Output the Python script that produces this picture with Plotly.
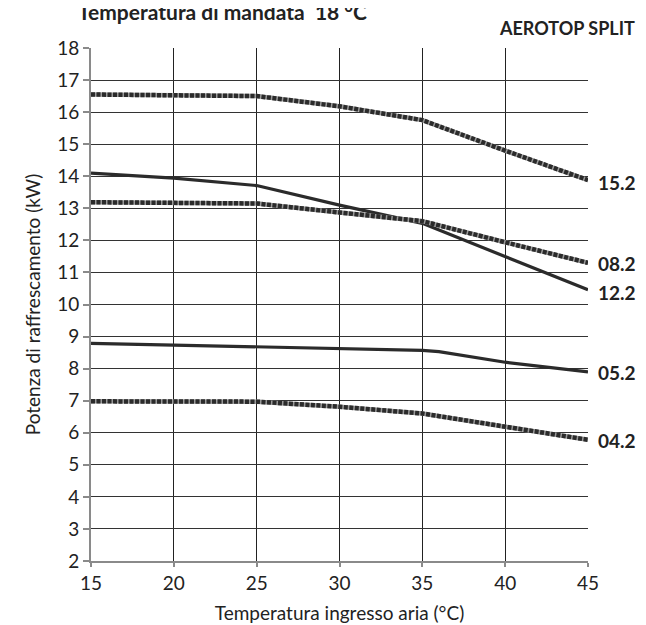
import plotly.graph_objects as go

# Data
x_temp = [15, 20, 25, 30, 35, 40, 45]
x_temp_052 = [15, 20, 25, 30, 35, 36, 40, 45]

cap_152 = [16.55, 16.53, 16.50, 16.18, 15.75, 14.80, 13.88]
cap_122 = [14.10, 13.94, 13.71, 13.10, 12.53, 11.49, 10.46]
cap_082 = [13.19, 13.17, 13.15, 12.87, 12.60, 11.94, 11.30]
cap_052 = [8.79, 8.73, 8.68, 8.62, 8.57, 8.53, 8.20, 7.90]
cap_042 = [6.98, 6.99, 6.97, 6.81, 6.60, 6.19, 5.78]

series_names = ["15.2", "08.2", "12.2", "05.2", "04.2"]
label_y = [13.82, 11.29, 10.37, 7.88, 5.75]

x_ticks = [15, 20, 25, 30, 35, 40, 45]
y_ticks = list(range(2, 19))

DARK = "#2b2b2b"
FONT = "Lato"

fig = go.Figure()

def dotted(xs, ys, name):
    fig.add_trace(go.Scatter(x=xs, y=ys, mode="lines", name=name,
                             line=dict(color="#9a9a9a", width=4.5),
                             hoverinfo="skip", showlegend=False))
    fig.add_trace(go.Scatter(x=xs, y=ys, mode="lines", name=name,
                             line=dict(color=DARK, width=4.5, dash="4px,1.5px"),
                             showlegend=False))

def solid(xs, ys, name):
    fig.add_trace(go.Scatter(x=xs, y=ys, mode="lines", name=name,
                             line=dict(color=DARK, width=3.2),
                             showlegend=False))

dotted(x_temp, cap_152, "15.2")
solid(x_temp, cap_122, "12.2")
dotted(x_temp, cap_082, "08.2")
solid(x_temp_052, cap_052, "05.2")
dotted(x_temp, cap_042, "04.2")

for name, yv in zip(series_names, label_y):
    fig.add_annotation(x=45, y=yv, xref="x", yref="y", text="<b>%s</b>" % name,
                       showarrow=False, xanchor="left", yanchor="middle", xshift=8,
                       font=dict(family=FONT, size=19, color="#222"))

fig.add_annotation(x=-0.03, y=1.072, xref="paper", yref="paper",
                   text="<b>Temperatura di mandata  18 °C</b>", showarrow=False,
                   xanchor="left", yanchor="middle",
                   font=dict(family=FONT, size=21, color="#222"))
fig.add_annotation(x=1.098, y=1.039, xref="paper", yref="paper",
                   text="<b>AEROTOP SPLIT</b>", showarrow=False,
                   xanchor="right", yanchor="middle",
                   font=dict(family=FONT, size=18, color="#222"))

fig.update_layout(
    width=646, height=625,
    margin=dict(l=83, r=66, t=40, b=66),
    paper_bgcolor="white", plot_bgcolor="white",
    font=dict(family=FONT, color="#222"),
    showlegend=False,
)
fig.update_xaxes(
    range=[15, 45], tickvals=x_ticks, ticktext=[str(v) for v in x_ticks],
    showgrid=True, gridcolor="#222", gridwidth=1.2,
    showline=True, linecolor="#8a8a8a", linewidth=2,
    ticks="outside", ticklen=4, tickcolor="#8a8a8a", tickwidth=1.5,
    tickfont=dict(family=FONT, size=19, color="#222"),
    title=dict(text="Temperatura ingresso aria (°C)", standoff=14,
               font=dict(family=FONT, size=19, color="#222")),
    zeroline=False, fixedrange=True,
)
fig.update_yaxes(
    range=[2, 18], tickvals=y_ticks, ticktext=[str(v) for v in y_ticks],
    showgrid=True, gridcolor="#333", gridwidth=1.2,
    showline=True, linecolor="#8a8a8a", linewidth=2,
    ticks="outside", ticklen=6, tickcolor="#8a8a8a", tickwidth=1.5,
    tickfont=dict(family=FONT, size=19, color="#222"),
    title=dict(text="Potenza di raffrescamento (kW)", standoff=12,
               font=dict(family=FONT, size=19, color="#222")),
    zeroline=False, fixedrange=True,
)

fig.write_html("out.html")
